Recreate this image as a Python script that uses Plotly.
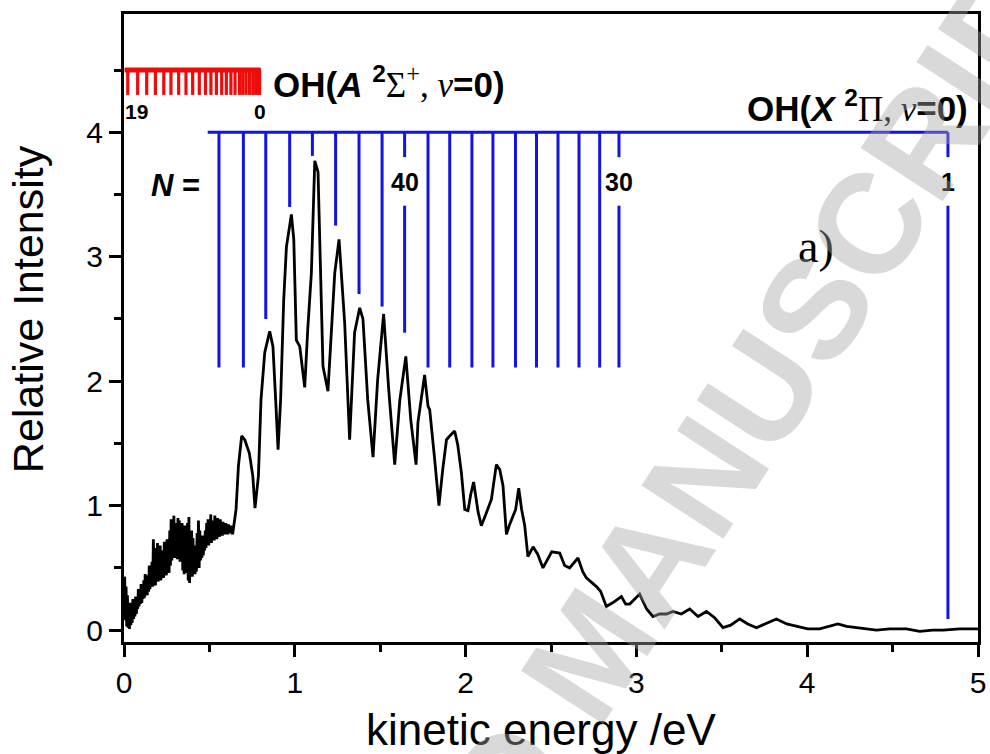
import plotly.graph_objects as go

# ---------------- data ----------------
# spectrum (kinetic energy / eV, relative intensity)
ke_low = [0.000, 0.004, 0.008, 0.012, 0.016, 0.020, 0.024, 0.028, 0.032, 0.036,
          0.040, 0.044, 0.048, 0.052, 0.056, 0.060, 0.064, 0.068, 0.072, 0.076,
          0.080, 0.084, 0.088, 0.092, 0.096, 0.100, 0.104, 0.108, 0.112, 0.116,
          0.120, 0.124, 0.128, 0.132, 0.136, 0.140, 0.144, 0.148, 0.152, 0.156,
          0.160, 0.164, 0.168, 0.172, 0.176, 0.180, 0.184, 0.188, 0.192, 0.196,
          0.200, 0.204, 0.208, 0.212, 0.216, 0.220, 0.224, 0.228, 0.232, 0.236,
          0.240, 0.244, 0.248, 0.252, 0.256, 0.260, 0.264, 0.268, 0.272, 0.276,
          0.280, 0.284, 0.288, 0.292, 0.296, 0.300, 0.304, 0.308, 0.312, 0.316,
          0.320, 0.324, 0.328, 0.332, 0.336, 0.340, 0.344, 0.348, 0.352, 0.356,
          0.360, 0.364, 0.368, 0.372, 0.376, 0.380, 0.384, 0.388, 0.392, 0.396,
          0.400, 0.404, 0.408, 0.412, 0.416, 0.420, 0.424, 0.428, 0.432, 0.436,
          0.440, 0.444, 0.448, 0.452, 0.456, 0.460, 0.464, 0.468, 0.472, 0.476,
          0.480, 0.484, 0.488, 0.492, 0.496, 0.500, 0.504, 0.508, 0.512, 0.516,
          0.520, 0.524, 0.528, 0.532, 0.536, 0.540, 0.544, 0.548, 0.552, 0.556,
          0.560, 0.564, 0.568, 0.572, 0.576, 0.580, 0.584, 0.588, 0.592, 0.596,
          0.600, 0.604, 0.608, 0.612, 0.616, 0.620, 0.624, 0.628, 0.632]
int_low = [0.22, 0.43, 0.08, 0.35, 0.03, 0.28, 0.02, 0.18, 0.01, 0.22,
           0.04, 0.15, 0.06, 0.25, 0.09, 0.20, 0.11, 0.27, 0.13, 0.22,
           0.17, 0.33, 0.19, 0.28, 0.21, 0.37, 0.22, 0.31, 0.25, 0.40,
           0.26, 0.45, 0.30, 0.38, 0.28, 0.44, 0.31, 0.52, 0.33, 0.47,
           0.36, 0.55, 0.35, 0.73, 0.40, 0.58, 0.36, 0.66, 0.41, 0.70,
           0.39, 0.60, 0.44, 0.68, 0.40, 0.55, 0.46, 0.64, 0.42, 0.71,
           0.47, 0.62, 0.44, 0.73, 0.50, 0.66, 0.46, 0.80, 0.52, 0.89,
           0.56, 0.84, 0.62, 0.92, 0.58, 0.86, 0.66, 0.80, 0.57, 0.90,
           0.63, 0.88, 0.55, 0.78, 0.60, 0.86, 0.48, 0.72, 0.45, 0.84,
           0.52, 0.76, 0.46, 0.86, 0.40, 0.91, 0.38, 0.66, 0.44, 0.80,
           0.43, 0.74, 0.48, 0.68, 0.45, 0.62, 0.47, 0.78, 0.52, 0.88,
           0.50, 0.80, 0.56, 0.72, 0.58, 0.76, 0.60, 0.70, 0.64, 0.80,
           0.66, 0.86, 0.70, 0.89, 0.68, 0.78, 0.72, 0.93, 0.70, 0.86,
           0.74, 0.88, 0.72, 0.92, 0.76, 0.84, 0.73, 0.90, 0.77, 0.86,
           0.75, 0.89, 0.78, 0.84, 0.76, 0.87, 0.79, 0.83, 0.77, 0.86,
           0.79, 0.82, 0.77, 0.85, 0.78, 0.81, 0.80, 0.84, 0.78]
ke_high = [0.637, 0.656, 0.670, 0.689, 0.707, 0.734,
           0.754, 0.767, 0.787, 0.802, 0.824, 0.853, 0.872, 0.888, 0.902, 0.917, 0.935, 0.951, 0.980, 0.994,
           1.009, 1.029, 1.058, 1.076, 1.097, 1.117, 1.136, 1.156, 1.165, 1.194, 1.234, 1.259, 1.292, 1.321,
           1.350, 1.380, 1.399, 1.427, 1.458, 1.485, 1.520, 1.550, 1.585, 1.615, 1.650, 1.679, 1.710, 1.721,
           1.731, 1.760, 1.780, 1.790, 1.819, 1.844, 1.866, 1.888, 1.907, 1.936, 1.954, 1.975, 1.995, 2.014,
           2.030, 2.047, 2.073, 2.092, 2.118, 2.151, 2.180, 2.200, 2.219, 2.239, 2.258, 2.278, 2.293, 2.311,
           2.328, 2.346, 2.365, 2.395, 2.422, 2.453, 2.504, 2.551, 2.580, 2.609, 2.658, 2.686, 2.707, 2.766,
           2.791, 2.824, 2.861, 2.912, 2.937, 2.961, 2.990, 3.019, 3.060, 3.097, 3.136, 3.176, 3.214, 3.263,
           3.312, 3.361, 3.410, 3.458, 3.507, 3.552, 3.605, 3.652, 3.703, 3.757, 3.820, 3.880, 3.937, 4.003,
           4.073, 4.132, 4.180, 4.231, 4.288, 4.343, 4.405, 4.483, 4.581, 4.659, 4.735, 4.795, 4.893, 5.000]
int_high = [0.78, 0.97, 1.32, 1.56, 1.53, 1.42,
            1.24, 0.98, 1.24, 1.85, 2.23, 2.40, 2.28, 1.85, 1.45, 1.85, 2.65, 3.08, 3.34, 3.14,
            2.33, 2.28, 1.95, 2.42, 2.87, 3.77, 3.68, 2.60, 2.12, 1.92, 2.87, 3.14, 2.47, 1.53,
            2.39, 2.59, 2.50, 1.85, 1.39, 2.01, 2.54, 1.93, 1.33, 1.85, 2.20, 1.69, 1.33, 1.67,
            1.77, 2.05, 1.80, 1.77, 1.37, 1.00, 1.29, 1.53, 1.56, 1.60, 1.49, 1.27, 0.97, 0.96,
            1.09, 1.19, 0.95, 0.84, 0.93, 1.05, 1.33, 1.29, 1.16, 0.77, 0.85, 0.92, 0.97, 1.14,
            0.97, 0.84, 0.59, 0.67, 0.61, 0.50, 0.63, 0.62, 0.52, 0.50, 0.58, 0.47, 0.42, 0.35,
            0.31, 0.19, 0.22, 0.27, 0.21, 0.21, 0.25, 0.29, 0.17, 0.11, 0.13, 0.13, 0.15, 0.13,
            0.17, 0.11, 0.15, 0.10, 0.02, 0.04, 0.09, 0.05, 0.02, 0.05, 0.09, 0.05, 0.03, 0.01,
            0.01, 0.03, 0.05, 0.03, 0.02, 0.01, 0.00, 0.01, 0.01, -0.01, 0.00, 0.00, 0.01, 0.01]

# OH(X) rotational comb: positions (eV) and lower ends of the sticks
x_comb_pos = [0.556, 0.699, 0.830, 0.970, 1.103, 1.239, 1.376, 1.511, 1.643, 1.780, 1.907, 2.037,
              2.160, 2.292, 2.415, 2.541, 2.664, 2.785, 2.898, 4.824]
x_comb_bottom = [2.11, 2.11, 2.50, 3.40, 3.81, 3.25, 2.70, 2.60, 2.39, 2.11, 2.11, 2.11,
                 2.11, 2.11, 2.11, 2.11, 2.11, 2.11, 2.11, 0.09]
x_comb_labels = {8: "40", 18: "30", 19: "1"}
x_comb_level = 4.0
x_comb_start = 0.49

# OH(A) rotational comb
a_comb_pos = [0.022, 0.080, 0.133, 0.184, 0.233, 0.275, 0.320, 0.363, 0.402, 0.441, 0.477, 0.509,
              0.541, 0.572, 0.599, 0.626, 0.650, 0.676, 0.695, 0.714, 0.734, 0.754, 0.771, 0.786, 0.794]
a_comb_level = 4.5
a_comb_bottom = 4.30
a_comb_span = [0.004, 0.80]

ke = ke_low + ke_high
intensity = int_low + int_high

BLUE = "rgb(18,18,228)"
RED = "rgb(240,10,10)"

fig = go.Figure()

# blue comb sticks (with gaps for labels)
bx, by = [x_comb_start, x_comb_pos[-1], None], [x_comb_level, x_comb_level, None]
gap_top, gap_bot = 3.80, 3.41
for i, (p, b) in enumerate(zip(x_comb_pos, x_comb_bottom)):
    if i in x_comb_labels:
        bx += [p, p, None, p, p, None]
        by += [x_comb_level, gap_top, None, gap_bot, b, None]
    else:
        bx += [p, p, None]
        by += [x_comb_level, b, None]
fig.add_trace(go.Scatter(x=bx, y=by, mode="lines", line=dict(color=BLUE, width=3),
                         hoverinfo="skip", showlegend=False, cliponaxis=False))

# red comb
rx, ry = [a_comb_span[0], a_comb_span[1], None], [a_comb_level, a_comb_level, None]
for p in a_comb_pos:
    rx += [p, p, None]
    ry += [a_comb_level, a_comb_bottom, None]
fig.add_trace(go.Scatter(x=rx, y=ry, mode="lines", line=dict(color=RED, width=3.2),
                         hoverinfo="skip", showlegend=False, cliponaxis=False))
fig.add_trace(go.Scatter(x=a_comb_span, y=[a_comb_level, a_comb_level], mode="lines",
                         line=dict(color=RED, width=5), hoverinfo="skip", showlegend=False))

# spectrum
fig.add_trace(go.Scatter(x=ke, y=intensity, mode="lines", line=dict(color="black", width=2.8),
                         hoverinfo="skip", showlegend=False))

ann = []
SERIF = "Liberation Serif"
SANS = "Liberation Sans"
for i, lab in x_comb_labels.items():
    ann.append(dict(x=x_comb_pos[i], y=3.6, text="<b>%s</b>" % lab, showarrow=False,
                    font=dict(family=SANS, size=25, color="black"), xanchor="center", yanchor="middle"))
ann.append(dict(x=0.30, y=3.57, text="<b><i>N</i> =</b>", showarrow=False,
                font=dict(family=SANS, size=31, color="black"), xanchor="center", yanchor="middle"))
ann.append(dict(x=0.075, y=4.17, text="<b>19</b>", showarrow=False,
                font=dict(family=SANS, size=21, color="black"), xanchor="center", yanchor="middle"))
ann.append(dict(x=0.794, y=4.17, text="<b>0</b>", showarrow=False,
                font=dict(family=SANS, size=21, color="black"), xanchor="center", yanchor="middle"))
ann.append(dict(x=0.86, y=4.40,
                text="<b>OH(<i>A</i></b> <b><sup>2</sup></b><span style='font-family:%s'>Σ<sup>+</sup>, <i>v</i></span><b>=0)</b>" % SERIF,
                showarrow=False, font=dict(family=SANS, size=35, color="black"),
                xanchor="left", yanchor="middle"))
ann.append(dict(x=4.955, y=4.21,
                text="<b>OH(<i>X</i></b> <b><sup>2</sup></b><span style='font-family:%s'>Π, <i>v</i></span><b>=0)</b>" % SERIF,
                showarrow=False, font=dict(family=SANS, size=35, color="black"),
                xanchor="right", yanchor="middle"))
ann.append(dict(x=4.05, y=3.08, text="a)", showarrow=False,
                font=dict(family=SERIF, size=46, color="black"), xanchor="center", yanchor="middle"))
# axis titles
ann.append(dict(xref="paper", yref="paper", x=0.488, y=-0.139, text="kinetic energy /eV",
                showarrow=False, font=dict(family=SANS, size=44, color="black"),
                xanchor="center", yanchor="middle"))
ann.append(dict(xref="paper", yref="paper", x=-0.1124, y=0.530, text="Relative Intensity",
                showarrow=False, textangle=-90, font=dict(family=SANS, size=43, color="black"),
                xanchor="center", yanchor="middle"))
# watermark
ann.append(dict(xref="paper", yref="paper", x=0.546, y=-0.016, text="<b>ACCEPTED MANUSCRIPT</b>",
                showarrow=False, textangle=-57,
                font=dict(family=SANS, size=142, color="rgba(165,165,165,0.42)"),
                xanchor="center", yanchor="middle"))

axis_common = dict(showline=True, linecolor="black", linewidth=3, mirror=True, ticks="outside",
                   tickwidth=2.5, ticklen=12, tickcolor="black", showgrid=False, zeroline=False,
                   automargin=False, tickfont=dict(family=SANS, size=30, color="black"))

fig.update_layout(
    width=990, height=754, margin=dict(l=124, r=12, t=14, b=112, autoexpand=False),
    paper_bgcolor="white", plot_bgcolor="white",
    xaxis=dict(range=[0, 5], dtick=1, tick0=0,
               minor=dict(dtick=0.5, ticks="outside", ticklen=7, tickwidth=2.5, tickcolor="black"),
               **axis_common),
    yaxis=dict(range=[-0.095, 4.95], dtick=1, tick0=0,
               minor=dict(dtick=0.5, ticks="outside", ticklen=7, tickwidth=2.5, tickcolor="black"),
               **axis_common),
    annotations=ann,
)

fig.write_html("out.html")
